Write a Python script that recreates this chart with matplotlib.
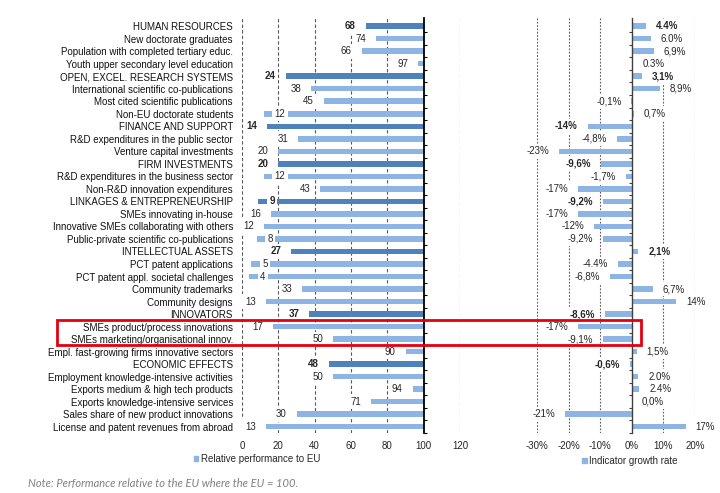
import matplotlib
matplotlib.use("Agg")
import matplotlib.pyplot as plt
import matplotlib.patches as mpatches
import numpy as np

categories = [
    "HUMAN RESOURCES",
    "New doctorate graduates",
    "Population with completed tertiary educ.",
    "Youth upper secondary level education",
    "OPEN, EXCEL. RESEARCH SYSTEMS",
    "International scientific co-publications",
    "Most cited scientific publications",
    "Non-EU doctorate students",
    "FINANCE AND SUPPORT",
    "R&D expenditures in the public sector",
    "Venture capital investments",
    "FIRM INVESTMENTS",
    "R&D expenditures in the business sector",
    "Non-R&D innovation expenditures",
    "LINKAGES & ENTREPRENEURSHIP",
    "SMEs innovating in-house",
    "Innovative SMEs collaborating with others",
    "Public-private scientific co-publications",
    "INTELLECTUAL ASSETS",
    "PCT patent applications",
    "PCT patent appl. societal challenges",
    "Community trademarks",
    "Community designs",
    "INNOVATORS",
    "SMEs product/process innovations",
    "SMEs marketing/organisational innov.",
    "Empl. fast-growing firms innovative sectors",
    "ECONOMIC EFFECTS",
    "Employment knowledge-intensive activities",
    "Exports medium & high tech products",
    "Exports knowledge-intensive services",
    "Sales share of new product innovations",
    "License and patent revenues from abroad",
]

relative_performance = [68, 74, 66, 97, 24, 38, 45, 12, 14, 31, 20, 20, 12, 43,
                        9, 16, 12, 8, 27, 5, 4, 33, 13, 37, 17, 50, 90, 48, 50,
                        94, 71, 30, 13]

growth_rate = [4.4, 6.0, 6.9, 0.3, 3.1, 8.9, -0.1, 0.7, -14, -4.8, -23, -9.6,
               -1.7, -17, -9.2, -17, -12, -9.2, 2.1, -4.4, -6.8, 6.7, 14, -8.6,
               -17, -9.1, 1.5, -0.6, 2.0, 2.4, 0.0, -21, 17]

growth_labels = ["4.4%", "6.0%", "6,9%", "0.3%", "3,1%", "8,9%", "-0,1%", "0,7%",
                 "-14%", "-4,8%", "-23%", "-9,6%", "-1,7%", "-17%", "-9,2%",
                 "-17%", "-12%", "-9,2%", "2,1%", "-4.4%", "-6,8%", "6,7%",
                 "14%", "-8,6%", "-17%", "-9,1%", "1,5%", "-0,6%", "2.0%",
                 "2.4%", "0,0%", "-21%", "17%"]

left_ticks = [0, 20, 40, 60, 80, 100, 120]
right_ticks = [-30, -20, -10, 0, 10, 20]
right_tick_labels = ["-30%", "-20%", "-10%", "0%", "10%", "20%"]

# rows whose value label sits over the bar (Excel placement)
shifted_label_rows = {7, 12, 14, 17, 19, 20}
highlight_rows = [24, 25]

DARK = "#4f81bd"
LIGHT = "#8db4e2"
TXT = "#262626"
FS = 7

plt.rcParams['font.family'] = ['Liberation Sans', 'DejaVu Sans']

fig = plt.figure(figsize=(7.2, 4.93), dpi=100)
W, H = 720, 493

def fx(px):
    return px / W

def fy(py):
    return 1 - py / H

n = len(categories)
y = np.arange(n)
is_cat = [c.isupper() for c in categories]
bar_h = 0.44

# ---------------- left panel ----------------
ax1 = fig.add_axes([fx(242), fy(433), fx(460) - fx(242), fy(18) - fy(433)])
colors = [DARK if c else LIGHT for c in is_cat]
widths = [100 - v for v in relative_performance]
ax1.barh(y, widths, left=relative_performance, height=bar_h, color=colors, zorder=2)
ax1.set_xlim(0, 120)
ax1.set_ylim(n - 1 + 0.3, -0.65)
ax1.set_xticks(left_ticks)
ax1.set_xticklabels([str(t) for t in left_ticks])
for t in left_ticks:
    if t != 100:
        ax1.axvline(t, color="#595959", lw=0.8, ls=(0, (3, 2)), zorder=1)
ax1.set_yticks(y)
ax1.set_yticklabels(categories)
ax1.set_yticks(y + 0.5, minor=True)
ax1.tick_params(axis='y', which='major', left=False, right=False, length=0,
                pad=6.5, labelsize=FS, labelcolor="#111111")
ax1.tick_params(axis='y', which='minor', left=False, right=True, length=2.5,
                width=0.8, direction='out', color='black')
ax1.tick_params(axis='x', length=0, pad=6, labelsize=FS, labelcolor=TXT)
for s in ["top", "bottom", "left"]:
    ax1.spines[s].set_visible(False)
ax1.spines["right"].set_position(("data", 100))
ax1.spines["right"].set_color("black")
ax1.spines["right"].set_linewidth(1.3)
ax1.spines["right"].set_zorder(4)

for i, v in enumerate(relative_performance):
    weight = "bold" if is_cat[i] else "normal"
    if i in shifted_label_rows:
        off, ha = 7.9, "left"
    else:
        off, ha = -7.2, "right"
    ax1.annotate(str(v), xy=(v, i), xytext=(off, 0), textcoords="offset points",
                 ha=ha, va="center", fontsize=FS, fontweight=weight, color=TXT,
                 bbox=dict(boxstyle="square,pad=0.25", fc="white", ec="none"),
                 zorder=5, annotation_clip=False)

# ---------------- right panel ----------------
ax2 = fig.add_axes([fx(537), fy(433), fx(695) - fx(537), fy(18) - fy(433)])
ax2.barh(y, growth_rate, height=bar_h, color=LIGHT, zorder=2)
ax2.set_xlim(-30, 20)
ax2.set_ylim(n - 1 + 0.3, -0.65)
ax2.set_xticks(right_ticks)
ax2.set_xticklabels(right_tick_labels)
for t in right_ticks:
    if t != 0:
        ax2.axvline(t, color="#595959", lw=0.8, ls=(0, (1.5, 1.5)), zorder=1)
ax2.set_yticks([])
ax2.set_yticks(y + 0.5, minor=True)
ax2.tick_params(axis='y', which='minor', left=True, right=False, length=2.5,
                width=0.8, direction='out', color='#404040', labelleft=False)
ax2.tick_params(axis='x', length=0, pad=6, labelsize=FS, labelcolor=TXT)
for s in ["top", "bottom", "right"]:
    ax2.spines[s].set_visible(False)
ax2.spines["left"].set_position(("data", 0))
ax2.spines["left"].set_color("#404040")
ax2.spines["left"].set_linewidth(1.0)
ax2.spines["left"].set_zorder(4)

for i, (v, lab) in enumerate(zip(growth_rate, growth_labels)):
    weight = "bold" if is_cat[i] else "normal"
    if v >= 0:
        off, ha = 7.2, "left"
    else:
        off, ha = -7.2, "right"
    ax2.annotate(lab, xy=(v, i), xytext=(off, 0), textcoords="offset points",
                 ha=ha, va="center", fontsize=FS, fontweight=weight, color=TXT,
                 bbox=dict(boxstyle="square,pad=0.25", fc="white", ec="none"),
                 zorder=5, annotation_clip=False)

# ---------------- legends ----------------
h1 = mpatches.Patch(color=LIGHT, label="Relative performance to EU")
fig.legend(handles=[h1], loc="center", bbox_to_anchor=(fx(257), fy(459)),
           frameon=False, fontsize=FS, handlelength=0.45, handleheight=0.45,
           handletextpad=0.25, borderpad=0, labelcolor=TXT)
h2 = mpatches.Patch(color=LIGHT, label="Indicator growth rate")
fig.legend(handles=[h2], loc="center", bbox_to_anchor=(fx(630), fy(461)),
           frameon=False, fontsize=FS, handlelength=0.45, handleheight=0.45,
           handletextpad=0.25, borderpad=0, labelcolor=TXT)

# ---------------- highlight box ----------------
y_top = min(highlight_rows) - 0.55
y_bot = max(highlight_rows) + 0.5
p_top = ax1.transData.transform((0, y_top))[1]
p_bot = ax1.transData.transform((0, y_bot))[1]
fig_top = fig.transFigure.inverted().transform((0, p_top))[1]
fig_bot = fig.transFigure.inverted().transform((0, p_bot))[1]
rect = mpatches.Rectangle((fx(57), fig_bot), fx(641) - fx(57), fig_top - fig_bot,
                          transform=fig.transFigure, fill=False, ec="#e3000f",
                          lw=2.0, zorder=10)
fig.patches.append(rect)

# ---------------- note ----------------
fig.text(fx(28), fy(483), "Note: Performance relative to the EU where the EU = 100.",
         fontsize=8, style="italic", color="#808080", family=["Lato", "DejaVu Sans"],
         ha="left", va="center")

fig.savefig("out.png", dpi=100, facecolor="white")
